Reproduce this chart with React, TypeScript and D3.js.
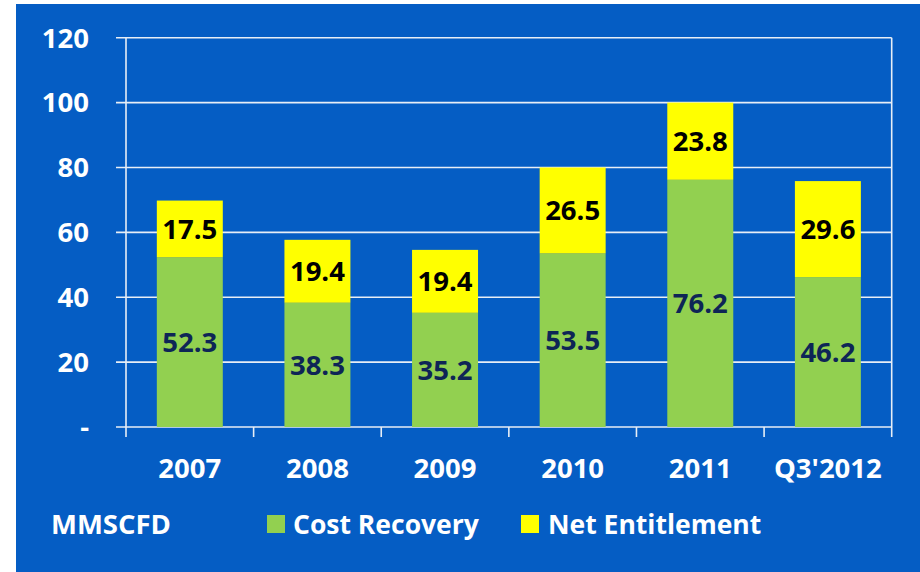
import React from "react";
import * as d3 from "d3";

const categories = ["2007", "2008", "2009", "2010", "2011", "Q3'2012"];
const costRecovery = [52.3, 38.3, 35.2, 53.5, 76.2, 46.2];
const netEntitlement = [17.5, 19.4, 19.4, 26.5, 23.8, 29.6];
const yTicks = [0, 20, 40, 60, 80, 100, 120];
const seriesNames = ["Cost Recovery", "Net Entitlement"];
const unitLabel = "MMSCFD";

const W = 920;
const H = 572;
const BG = "#055dc4";
const GREEN = "#92d050";
const YELLOW = "#ffff00";
const NAVY = "#0e2556";
const FONT = "'Open Sans', Lato, sans-serif";

export default function App() {
  const left = 126;
  const right = 891.7;
  const top = 37.7;
  const bottom = 427;

  const x = d3.scaleBand<string>().domain(categories).range([left, right]).paddingInner(0.483).paddingOuter(0.2415);
  const band = d3.scaleBand<string>().domain(categories).range([left, right]);
  const y = d3.scaleLinear().domain([0, 120]).range([bottom, top]);

  const fs = 27.5;
  const lfs = 26.5;

  return (
    <svg
      width={W}
      height={H}
      style={{ position: "absolute", left: 0, top: 0, display: "block" }}
      fontFamily={FONT}
    >
      <rect x={0} y={0} width={W} height={H} fill="#ffffff" />
      <rect x={16} y={4} width={W - 16} height={H - 4} fill={BG} />

      {/* gridlines */}
      {yTicks.map((t) => (
        <line key={t} x1={116} x2={right} y1={y(t)} y2={y(t)} stroke="#e8eef6" strokeWidth={1.6} />
      ))}
      {/* left axis & right border */}
      <line x1={left} x2={left} y1={top} y2={bottom + 10} stroke="#e8eef6" strokeWidth={1.6} />
      <line x1={right} x2={right} y1={top} y2={bottom + 10} stroke="#e8eef6" strokeWidth={1.6} />
      {/* category ticks */}
      {categories.map((c, i) =>
        i === 0 ? null : (
          <line
            key={c}
            x1={band(c)!}
            x2={band(c)!}
            y1={bottom}
            y2={bottom + 10}
            stroke="#e8eef6"
            strokeWidth={1.6}
          />
        )
      )}

      {/* bars */}
      {categories.map((c, i) => {
        const cr = costRecovery[i];
        const ne = netEntitlement[i];
        const bx = x(c)!;
        const bw = x.bandwidth();
        return (
          <g key={c}>
            <rect x={bx} y={y(cr)} width={bw} height={y(0) - y(cr)} fill={GREEN} />
            <rect x={bx} y={y(cr + ne)} width={bw} height={y(cr) - y(cr + ne)} fill={YELLOW} />
            <text
              x={bx + bw / 2}
              y={(y(0) + y(cr)) / 2}
              dy="0.36em"
              textAnchor="middle"
              fontSize={fs}
              fontWeight={700}
              fill={NAVY}
            >
              {cr.toFixed(1)}
            </text>
            <text
              x={bx + bw / 2}
              y={(y(cr) + y(cr + ne)) / 2}
              dy="0.36em"
              textAnchor="middle"
              fontSize={fs}
              fontWeight={700}
              fill="#000000"
            >
              {ne.toFixed(1)}
            </text>
          </g>
        );
      })}

      {/* y labels */}
      {yTicks.map((t) => (
        <text
          key={t}
          x={89}
          y={y(t)}
          dy="0.36em"
          textAnchor="end"
          fontSize={fs}
          fontWeight={700}
          fill="#ffffff"
        >
          {t === 0 ? "-" : t}
        </text>
      ))}

      {/* x labels */}
      {categories.map((c) => (
        <text
          key={c}
          x={x(c)! + x.bandwidth() / 2}
          y={478}
          textAnchor="middle"
          fontSize={fs}
          fontWeight={700}
          fill="#ffffff"
        >
          {c}
        </text>
      ))}

      {/* legend */}
      <text x={51} y={534} fontSize={fs} fontWeight={700} fill="#ffffff">
        {unitLabel}
      </text>
      <rect x={267} y={515} width={18} height={18} fill={GREEN} />
      <text x={293} y={534} fontSize={lfs} fontWeight={700} fill="#ffffff">
        {seriesNames[0]}
      </text>
      <rect x={521} y={515} width={18} height={18} fill={YELLOW} />
      <text x={548} y={534} fontSize={lfs} fontWeight={700} fill="#ffffff">
        {seriesNames[1]}
      </text>
    </svg>
  );
}
